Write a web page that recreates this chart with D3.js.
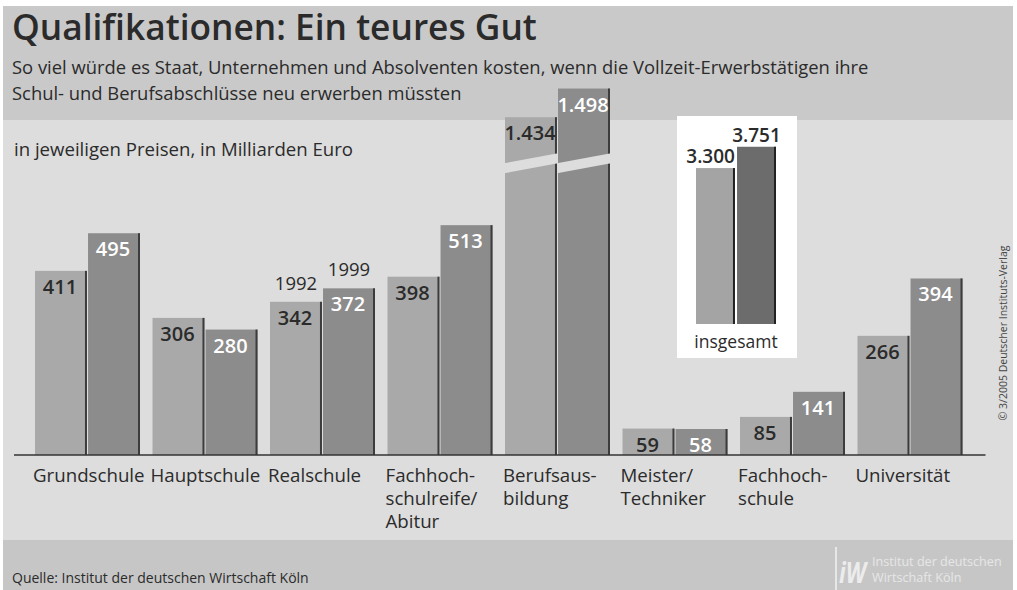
<!DOCTYPE html>
<html><head><meta charset="utf-8">
<script src="https://cdn.jsdelivr.net/npm/d3@7"></script>
<style>
html,body{margin:0;padding:0;background:#fff;}
svg{display:block;}
text{font-family:"Open Sans","Noto Sans",sans-serif;}
</style></head>
<body>
<svg id="c" width="1017" height="590"></svg>
<script>
// ---- data ----
const categories = ["Grundschule","Hauptschule","Realschule","Fachhochschulreife/Abitur","Berufsausbildung","Meister/Techniker","Fachhochschule","Universität"];
const categoryLines = [["Grundschule"],["Hauptschule"],["Realschule"],["Fachhoch-","schulreife/","Abitur"],["Berufsaus-","bildung"],["Meister/","Techniker"],["Fachhoch-","schule"],["Universität"]];
const years = ["1992","1999"];
const values1992 = [411,306,342,398,1434,59,85,266];
const values1999 = [495,280,372,513,1498,58,141,394];
const totalYears = ["1992","1999"];
const totals = [3300,3751];
const totalLabel = "insgesamt";
const title = "Qualifikationen: Ein teures Gut";
const subtitle = ["So viel würde es Staat, Unternehmen und Absolventen kosten, wenn die Vollzeit-Erwerbstätigen ihre","Schul- und Berufsabschlüsse neu erwerben müssten"];
const unitNote = "in jeweiligen Preisen, in Milliarden Euro";
const source = "Quelle: Institut der deutschen Wirtschaft Köln";
const copyright = "© 3/2005 Deutscher Instituts-Verlag";
const logoLines = ["Institut der deutschen","Wirtschaft Köln"];
const breakThreshold = 1000; // values above are drawn with a broken bar
const breakCut = 680;        // amount removed from broken bars
const breakAt = 640;         // position of the break (display units)

// ---- setup ----
const de = d3.formatLocale({decimal:",",thousands:".",grouping:[3],currency:["","€"]});
const fmt = de.format(",");
const svg = d3.select("#c");
const W = 1017, H = 590;
const C = {top:"#c9c9c9", plot:"#dddddd", bottom:"#c6c6c6", bar1:"#a9a9a9", bar2:"#8c8c8c", edge:"#3c3c3c", text:"#2b2b2b",
           ibar1:"#a4a4a4", ibar2:"#6c6c6c"};

// backgrounds
svg.append("rect").attr("width",W).attr("height",H).attr("fill","#fff");
svg.append("rect").attr("x",3).attr("y",6).attr("width",1010).attr("height",114).attr("fill",C.top);
svg.append("rect").attr("x",3).attr("y",120).attr("width",1010).attr("height",420).attr("fill",C.plot);
svg.append("rect").attr("x",3).attr("y",540).attr("width",1010).attr("height",50).attr("fill",C.bottom);

// titles
svg.append("text").attr("x",12).attr("y",40).attr("font-size",35.3).attr("font-weight",600).attr("fill",C.text).text(title);
svg.selectAll("text.sub").data(subtitle).join("text").attr("class","sub")
  .attr("x",12).attr("y",(d,i)=>74+i*26).attr("font-size",18.4).attr("fill",C.text).text(d=>d);
svg.append("text").attr("x",14).attr("y",156).attr("font-size",18.6).attr("fill",C.text).text(unitNote);

// scales
const x0 = d3.scaleBand().domain(categories).range([35,962.5]).paddingInner(0.1064).paddingOuter(0);
const x1 = d3.scaleBand().domain(years).range([0,x0.bandwidth()]).paddingInner(0.02);
const y = d3.scaleLinear().domain([0,1000]).range([455,7]);
const disp = v => v > breakThreshold ? v - breakCut : v;

const rows = categories.map((c,i)=>({cat:c, vals:[{year:"1992",v:values1992[i]},{year:"1999",v:values1999[i]}]}));

const g = svg.append("g");
const grp = g.selectAll("g.grp").data(rows).join("g").attr("class","grp")
  .attr("transform",d=>`translate(${x0(d.cat)},0)`);
const bars = grp.selectAll("g.bar").data(d=>d.vals).join("g").attr("class","bar");
bars.append("rect")
  .attr("x",d=>x1(d.year)).attr("width",x1.bandwidth())
  .attr("y",d=>y(disp(d.v))).attr("height",d=>y(0)-y(disp(d.v)))
  .attr("fill",d=>d.year===years[0]?C.bar1:C.bar2);
bars.append("rect")
  .attr("x",d=>x1(d.year)+x1.bandwidth()-2).attr("width",2)
  .attr("y",d=>y(disp(d.v))).attr("height",d=>y(0)-y(disp(d.v)))
  .attr("fill",C.edge);
// break strips
bars.filter(d=>d.v>breakThreshold).append("path")
  .attr("d",d=>{
    const xa = x1(d.year)-1, xb = x1(d.year)+x1.bandwidth()+1;
    const yc = y(breakAt);
    return `M${xa},${yc-5}L${xb},${yc-15}L${xb},${yc-5}L${xa},${yc+5}Z`;
  }).attr("fill",C.plot);
// value labels
bars.append("text")
  .attr("x",d=>x1(d.year)+x1.bandwidth()/2-1)
  .attr("y",d=>y(disp(d.v))+23)
  .attr("text-anchor","middle").attr("font-size",20).attr("font-weight",600)
  .attr("fill",d=>d.year===years[0]?C.text:"#fff")
  .text(d=>fmt(d.v));

// year legend above Realschule bars
const legendCat = categories[2];
const legendRow = rows[2];
svg.selectAll("text.yr").data(legendRow.vals).join("text").attr("class","yr")
  .attr("x",d=>x0(legendCat)+x1(d.year)+x1.bandwidth()/2)
  .attr("y",d=>y(d.v)-12)
  .attr("text-anchor","middle").attr("font-size",18.5).attr("fill",C.text).text(d=>d.year);

// axis line
const axis = d3.axisBottom(x0).tickSize(0).tickSizeOuter(0).tickFormat("");
const ax = svg.append("g").attr("transform",`translate(0,${y(0)})`).call(axis);
ax.select(".domain").attr("d",`M${x0.range()[0]-21},0H${x0.range()[1]+23}`).attr("stroke","#333").attr("stroke-width",1.6);

// category labels
const cl = svg.selectAll("text.cat").data(rows).join("text").attr("class","cat")
  .attr("x",d=>x0(d.cat)-2).attr("y",y(0)+27).attr("font-size",18.7).attr("fill",C.text);
cl.selectAll("tspan").data((d,i)=>categoryLines[i]).join("tspan")
  .attr("x",function(){return this.parentNode.getAttribute("x");})
  .attr("dy",(d,i)=>i===0?0:23).text(d=>d);

// inset
svg.append("rect").attr("x",677).attr("y",116).attr("width",120).attr("height",242).attr("fill","#fff");
const xi = d3.scaleBand().domain(totalYears).range([696,776]).paddingInner(0.05);
const yi = d3.scaleLinear().domain([0,4000]).range([324,135]);
const ib = svg.selectAll("g.ib").data(totals.map((v,i)=>({year:totalYears[i],v}))).join("g").attr("class","ib");
ib.append("rect").attr("x",d=>xi(d.year)).attr("width",xi.bandwidth())
  .attr("y",d=>yi(d.v)).attr("height",d=>yi(0)-yi(d.v))
  .attr("fill",(d,i)=>i===0?C.ibar1:C.ibar2);
ib.append("rect").attr("x",d=>xi(d.year)+xi.bandwidth()-2).attr("width",2)
  .attr("y",d=>yi(d.v)).attr("height",d=>yi(0)-yi(d.v)).attr("fill","#222");
ib.append("text")
  .attr("x",(d,i)=>i===0?xi(d.year)+xi.bandwidth():xi(d.year)+xi.bandwidth()/2)
  .attr("y",d=>yi(d.v)-5)
  .attr("text-anchor",(d,i)=>i===0?"end":"middle").attr("font-size",19).attr("font-weight",600).attr("fill",C.text).text(d=>fmt(d.v));
svg.append("text").attr("x",(xi.range()[0]+xi.range()[1])/2).attr("y",348)
  .attr("text-anchor","middle").attr("font-size",17.5).attr("fill",C.text).text(totalLabel);

// copyright
svg.append("text").attr("transform","translate(1007,333) rotate(-90)").attr("text-anchor","middle")
  .attr("font-size",10.5).attr("fill","#444").text(copyright);

// footer
svg.append("text").attr("x",12).attr("y",583).attr("font-size",14).attr("fill",C.text).text(source);
svg.append("line").attr("x1",836).attr("x2",836).attr("y1",547).attr("y2",590).attr("stroke","#f2f2f2").attr("stroke-width",1.5);
svg.append("text").attr("x",839).attr("y",583).attr("font-family","Liberation Sans, sans-serif").attr("font-size",28)
  .attr("font-weight",700).attr("font-style","italic").attr("fill","#ececec")
  .attr("textLength",27).attr("lengthAdjust","spacingAndGlyphs").text("iW");
svg.selectAll("text.logo").data(logoLines).join("text").attr("class","logo")
  .attr("x",872).attr("y",(d,i)=>566+i*15.5).attr("font-family","Liberation Sans, sans-serif")
  .attr("font-size",12.6).attr("fill","#e6e6e6").text(d=>d);
</script>
</body></html>
